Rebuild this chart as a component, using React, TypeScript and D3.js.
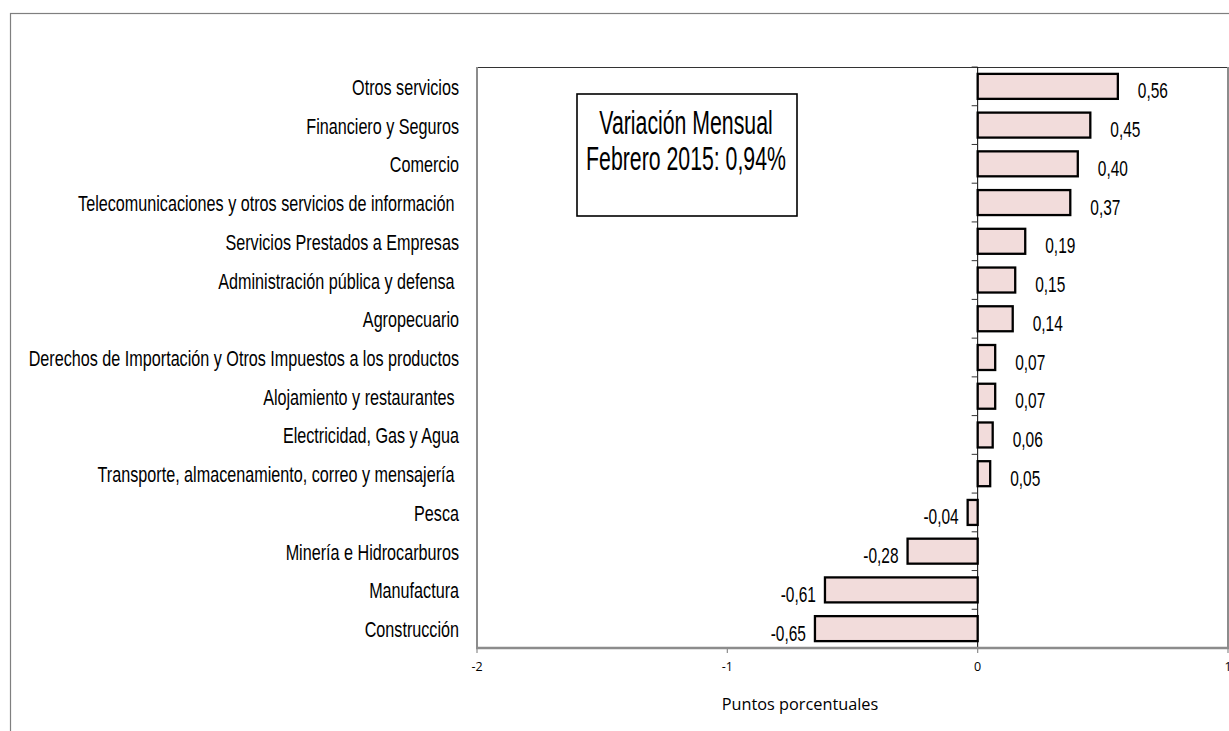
import React from "react";
import * as d3 from "d3";

const categories = [
  "Otros servicios",
  "Financiero y Seguros",
  "Comercio",
  "Telecomunicaciones y otros servicios de información ",
  "Servicios Prestados a Empresas",
  "Administración pública y defensa ",
  "Agropecuario",
  "Derechos de Importación y Otros Impuestos a los productos",
  "Alojamiento y restaurantes ",
  "Electricidad, Gas y Agua",
  "Transporte, almacenamiento, correo y mensajería ",
  "Pesca",
  "Minería e Hidrocarburos",
  "Manufactura",
  "Construcción",
];
const values = [0.56, 0.45, 0.4, 0.37, 0.19, 0.15, 0.14, 0.07, 0.07, 0.06, 0.05, -0.04, -0.28, -0.61, -0.65];
const xTicks = [-2, -1, 0, 1];
const boxLines = ["Variación Mensual", "Febrero 2015: 0,94%"];
const axisTitle = "Puntos porcentuales";

const W = 1229;
const H = 731;
const plot = { left: 477, right: 1228, top: 67, bottom: 648 };
const narrow = "'Liberation Sans', Arial, sans-serif";

export default function App() {
  const x = d3.scaleLinear().domain([-2, 1]).range([plot.left, plot.right]);
  const y = d3
    .scaleBand<string>()
    .domain(categories)
    .range([plot.top, plot.bottom])
    .paddingInner(0.355)
    .paddingOuter(0.1775);
  const step = y.step();
  const fmt = (v: number) => d3.format(".2f")(v).replace(".", ",").replace("\u2212", "-");
  const x0 = x(0);

  return (
    <svg
      width={W}
      height={H}
      style={{ position: "absolute", left: 0, top: 0, display: "block", background: "#fff" }}
    >
      {/* outer chart border */}
      <rect x={10.5} y={13.5} width={W + 20} height={H + 20} fill="#fff" stroke="#7f7f7f" strokeWidth={1.2} />

      {/* plot area border */}
      <line x1={plot.left} x2={plot.right} y1={plot.top + 0.5} y2={plot.top + 0.5} stroke="#333" strokeWidth={1} />
      <line x1={plot.left} x2={plot.left} y1={plot.top} y2={plot.bottom} stroke="#8c8c8c" strokeWidth={2} />
      <line x1={plot.right} x2={plot.right} y1={plot.top} y2={plot.bottom} stroke="#8c8c8c" strokeWidth={2} />

      {/* bars */}
      {categories.map((c, i) => {
        const v = values[i];
        const y0 = y(c)!;
        const xa = Math.min(x(v), x0);
        const w = Math.abs(x(v) - x0);
        return (
          <rect key={c} x={xa} y={y0} width={w} height={y.bandwidth()} fill="#f2dcdb" stroke="#000" strokeWidth={2.3} />
        );
      })}

      {/* zero axis line and ticks */}
      <line x1={x0} x2={x0} y1={plot.top} y2={plot.bottom} stroke="#000" strokeWidth={1} />
      {d3.range(categories.length + 1).map((k) => (
        <line
          key={"yt" + k}
          x1={x0 - 6}
          x2={x0}
          y1={plot.top + k * step}
          y2={plot.top + k * step}
          stroke="#333"
          strokeWidth={1}
        />
      ))}

      {/* x axis */}
      <line x1={plot.left - 1} x2={plot.right + 1} y1={plot.bottom} y2={plot.bottom} stroke="#8c8c8c" strokeWidth={2.4} />
      {xTicks.map((t) => (
        <g key={"xt" + t}>
          <line x1={x(t)} x2={x(t)} y1={plot.bottom} y2={plot.bottom + 5} stroke="#8c8c8c" strokeWidth={1.2} />
          <text
            x={x(t)}
            y={plot.bottom + 23}
            textAnchor="middle"
            fontFamily="'Open Sans', sans-serif"
            fontSize={12.5}
            fill="#000"
          >
            {String(t)}
          </text>
        </g>
      ))}
      <text
        x={800}
        y={plot.bottom + 62}
        textAnchor="middle"
        fontFamily="'Open Sans', sans-serif"
        fontSize={16.3}
        fill="#000"
      >
        {axisTitle}
      </text>

      {/* category labels */}
      {categories.map((c) => (
        <text
          key={"lab" + c}
          transform={`translate(${459},${y(c)! + y.bandwidth() / 2 + 8.5}) scale(0.735,1)`}
          textAnchor="end"
          fontFamily={narrow}
          fontSize={22}
          fill="#000"
          style={{ whiteSpace: "pre" }}
        >
          {c}
        </text>
      ))}

      {/* value labels */}
      {categories.map((c, i) => {
        const v = values[i];
        const pos = v >= 0;
        const tx = pos ? x(v) + 20 : x(v) - 9;
        return (
          <text
            key={"val" + c}
            transform={`translate(${tx},${y(c)! + y.bandwidth() / 2 + 12}) scale(0.72,1)`}
            textAnchor={pos ? "start" : "end"}
            fontFamily={narrow}
            fontSize={21.5}
            fill="#000"
          >
            {fmt(v)}
          </text>
        );
      })}

      {/* annotation box */}
      <rect x={577} y={94} width={220} height={122} fill="#fff" stroke="#000" strokeWidth={1.6} />
      {boxLines.map((l, i) => (
        <text
          key={"box" + i}
          transform={`translate(${686},${134 + i * 36}) scale(0.645,1)`}
          textAnchor="middle"
          fontFamily={narrow}
          fontSize={33}
          fill="#000"
        >
          {l}
        </text>
      ))}
    </svg>
  );
}
